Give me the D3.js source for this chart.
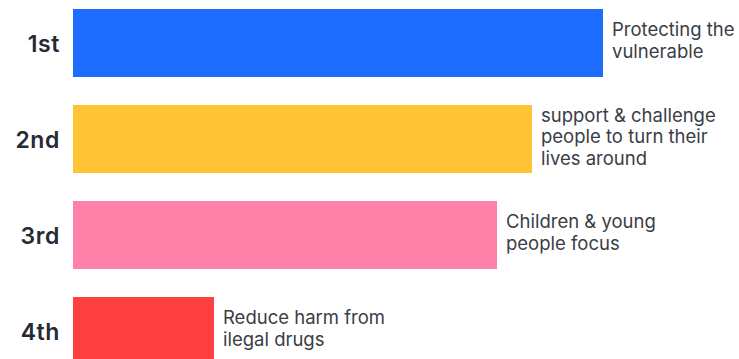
<!DOCTYPE html>
<html>
<head>
<meta charset="utf-8">
<script src="https://cdn.jsdelivr.net/npm/d3@7"></script>
<style>
  body { margin: 0; background: #fff; }
</style>
</head>
<body>
<div class="chart"></div>
<script>
// ranks, lengths and labels
var ranks = ["1st", "2nd", "3rd", "4th"];
var values = [100, 86.6, 80, 26.6];
var labels = [
    ["Protecting the", "vulnerable"],
    ["support & challenge", "people to turn their", "lives around"],
    ["Children & young", "people focus"],
    ["Reduce harm from", "ilegal drugs"]
];
var colors = ["#1e6bff", "#ffc436", "#ff80a8", "#ff4040"];

var width = 739, height = 359;
var svg = d3.select("div.chart")
    .append("svg")
    .attr("width", width)
    .attr("height", height);

var x = d3.scaleLinear()
    .domain([0, 100])
    .range([73, 603]);

// step 96, bar 68 - last bar runs off the bottom like in the picture
var y = d3.scaleBand()
    .domain(ranks)
    .range([9, 365])
    .paddingInner(28 / 96)
    .paddingOuter(0);

svg.selectAll("rect.bar")
    .data(ranks)
    .enter().append("rect")
    .attr("class", "bar")
    .attr("x", x(0))
    .attr("y", function(d){ return y(d); })
    .attr("width", function(d, i){ return x(values[i]) - x(0); })
    .attr("height", y.bandwidth())
    .attr("fill", function(d, i){ return colors[i]; });

// rank labels left of the bars
svg.selectAll("text.rank")
    .data(ranks)
    .enter().append("text")
    .attr("class", "rank")
    .text(function(d){ return d; })
    .attr("x", 60)
    .attr("y", function(d){ return y(d) + y.bandwidth() / 2 + 8.5; })
    .attr("text-anchor", "end")
    .attr("font-family", "Inter")
    .attr("font-weight", "600")
    .attr("font-size", "23px")
    .attr("letter-spacing", "0.6px")
    .attr("fill", "#262a33");

// descriptions right of the bars
var lineH = 21.5;
var desc = svg.selectAll("text.desc")
    .data(ranks)
    .enter().append("text")
    .attr("class", "desc")
    .attr("font-family", "Inter")
    .attr("font-size", "18.5px")
    .attr("fill", "#3a3d46");

desc.each(function(d, i){
    var t = d3.select(this);
    var n = labels[i].length;
    var cy = y(d) + y.bandwidth() / 2;
    labels[i].forEach(function(line, j){
        t.append("tspan")
            .text(line)
            .attr("x", x(values[i]) + 9)
            .attr("y", cy + (j - (n - 1) / 2) * lineH + 4);
    });
});
</script>
</body>
</html>
